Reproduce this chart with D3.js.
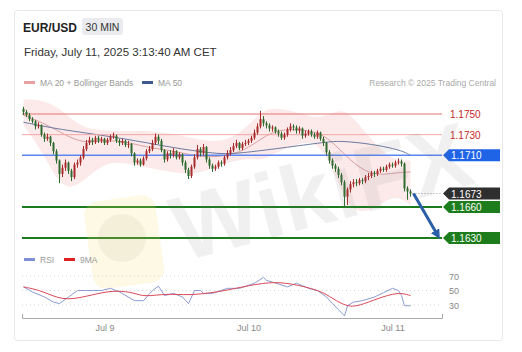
<!DOCTYPE html>
<html>
<head>
<meta charset="utf-8">
<script src="https://cdn.jsdelivr.net/npm/d3@7"></script>
<style>
  body { margin: 0; background: #fff; }
  text { font-family: "Liberation Sans", Arial, sans-serif; }
</style>
</head>
<body>
<svg id="chart" width="522" height="352"></svg>
<script>
// EUR/USD 30 min candles, Jul 8 10:30 -> Jul 11 03:00
const firstOpen = 1.1755;
const closes = [
  1.1752, 1.1749, 1.1745, 1.1743, 1.1738, 1.1739, 1.1730, 1.1726, 1.1728, 1.1722,
  1.1714, 1.1705, 1.1692, 1.1698, 1.1703, 1.1695, 1.1689, 1.1701, 1.1703, 1.1708,
  1.1716, 1.1722, 1.1725, 1.1723, 1.1727, 1.1724, 1.1726, 1.1722, 1.1725, 1.1728,
  1.1729, 1.1724, 1.1722, 1.1724, 1.1720, 1.1721, 1.1712, 1.1703, 1.1705, 1.1701,
  1.1707, 1.1714, 1.1716, 1.1722, 1.1728, 1.1724, 1.1715, 1.1706, 1.1712, 1.1710,
  1.1714, 1.1708, 1.1711, 1.1703, 1.1696, 1.1690, 1.1699, 1.1708, 1.1716, 1.1712,
  1.1718, 1.1706, 1.1700, 1.1697, 1.1699, 1.1703, 1.1702, 1.1708, 1.1712, 1.1715,
  1.1719, 1.1722, 1.1717, 1.1721, 1.1722, 1.1724, 1.1727, 1.1732, 1.1738, 1.1745,
  1.1741, 1.1739, 1.1736, 1.1737, 1.1733, 1.1731, 1.1727, 1.1730, 1.1735, 1.1738,
  1.1737, 1.1734, 1.1736, 1.1729, 1.1731, 1.1733, 1.1730, 1.1728, 1.1732, 1.1726,
  1.1722, 1.1713, 1.1705, 1.1700, 1.1697, 1.1691, 1.1684, 1.1670, 1.1677, 1.1682,
  1.1684, 1.1683, 1.1686, 1.1685, 1.1689, 1.1690, 1.1693, 1.1692, 1.1695, 1.1697,
  1.1696, 1.1699, 1.1701, 1.1700, 1.1703, 1.1704, 1.1702, 1.1678, 1.1675, 1.1673
];
const highs = [
  1.1757, 1.1754, 1.1751, 1.1747, 1.1744, 1.1742, 1.1740, 1.1732, 1.1731, 1.1729,
  1.1723, 1.1716, 1.1706, 1.1701, 1.1706, 1.1704, 1.1697, 1.1703, 1.1706, 1.1710,
  1.1719, 1.1725, 1.1728, 1.1727, 1.1729, 1.1729, 1.1728, 1.1727, 1.1727, 1.1730,
  1.1732, 1.1730, 1.1726, 1.1726, 1.1725, 1.1724, 1.1722, 1.1713, 1.1707, 1.1707,
  1.1709, 1.1716, 1.1719, 1.1725, 1.1731, 1.1730, 1.1726, 1.1716, 1.1714, 1.1715,
  1.1717, 1.1715, 1.1713, 1.1712, 1.1705, 1.1698, 1.1701, 1.1711, 1.1720, 1.1718,
  1.1721, 1.1719, 1.1708, 1.1702, 1.1701, 1.1705, 1.1705, 1.1710, 1.1715, 1.1718,
  1.1722, 1.1725, 1.1723, 1.1723, 1.1725, 1.1726, 1.1729, 1.1735, 1.1741, 1.1753,
  1.1748, 1.1743, 1.1741, 1.1739, 1.1738, 1.1735, 1.1733, 1.1732, 1.1737, 1.1741,
  1.1740, 1.1739, 1.1738, 1.1737, 1.1734, 1.1735, 1.1735, 1.1732, 1.1734, 1.1733,
  1.1728, 1.1723, 1.1715, 1.1707, 1.1702, 1.1699, 1.1693, 1.1686, 1.1679, 1.1685,
  1.1687, 1.1687, 1.1688, 1.1688, 1.1691, 1.1693, 1.1695, 1.1695, 1.1697, 1.1699,
  1.1699, 1.1701, 1.1703, 1.1703, 1.1705, 1.1707, 1.1706, 1.1703, 1.1680, 1.1677
];
const lows = [
  1.1749, 1.1747, 1.1743, 1.1741, 1.1735, 1.1736, 1.1728, 1.1723, 1.1724, 1.1719,
  1.1711, 1.1702, 1.1683, 1.1689, 1.1695, 1.1692, 1.1685, 1.1687, 1.1698, 1.1700,
  1.1706, 1.1714, 1.1720, 1.1720, 1.1721, 1.1722, 1.1722, 1.1720, 1.1720, 1.1723,
  1.1726, 1.1722, 1.1719, 1.1720, 1.1718, 1.1717, 1.1709, 1.1700, 1.1701, 1.1699,
  1.1700, 1.1705, 1.1712, 1.1714, 1.1720, 1.1721, 1.1713, 1.1703, 1.1704, 1.1707,
  1.1708, 1.1706, 1.1706, 1.1700, 1.1693, 1.1687, 1.1688, 1.1697, 1.1706, 1.1709,
  1.1710, 1.1703, 1.1697, 1.1694, 1.1695, 1.1697, 1.1699, 1.1700, 1.1706, 1.1710,
  1.1713, 1.1717, 1.1715, 1.1715, 1.1719, 1.1720, 1.1722, 1.1725, 1.1730, 1.1736,
  1.1738, 1.1736, 1.1733, 1.1733, 1.1731, 1.1728, 1.1725, 1.1725, 1.1728, 1.1733,
  1.1734, 1.1731, 1.1731, 1.1726, 1.1727, 1.1729, 1.1728, 1.1726, 1.1726, 1.1724,
  1.1719, 1.1710, 1.1702, 1.1697, 1.1694, 1.1688, 1.1681, 1.1661, 1.1662, 1.1674,
  1.1679, 1.1680, 1.1681, 1.1682, 1.1683, 1.1686, 1.1688, 1.1689, 1.1690, 1.1693,
  1.1694, 1.1694, 1.1697, 1.1698, 1.1698, 1.1701, 1.1699, 1.1675, 1.1667, 1.1670
];

// MA 20 + Bollinger bands, MA 50 : [candle index, price]
const bbUpper = [[0,1.1764],[6,1.1764],[12,1.1756],[17,1.1742],[22,1.1735],[29,1.1734],[36,1.1733],[42,1.1734],[49,1.1731],[56,1.1727],[62,1.1723],[69,1.1725],[75,1.1739],[80,1.1754],[84,1.1756],[91,1.1752],[97,1.1746],[102,1.1749],[107,1.1756],[112,1.1739],[119,1.1715],[124,1.1705],[129,1.1705]];
const bbLower = [[0,1.1739],[6,1.1715],[12,1.1681],[17,1.1678],[22,1.1691],[29,1.1705],[36,1.1701],[42,1.1698],[49,1.1694],[56,1.1691],[62,1.1696],[69,1.1704],[75,1.1707],[80,1.1705],[84,1.1713],[91,1.1720],[97,1.1725],[102,1.1705],[107,1.1667],[112,1.1652],[119,1.1662],[124,1.1672],[129,1.1662]];
const ma20 = [[0,1.1749],[6,1.1742],[12,1.1733],[17,1.1725],[22,1.1722],[29,1.1725],[36,1.1722],[42,1.1717],[49,1.1715],[56,1.1710],[62,1.1708],[69,1.1710],[75,1.1717],[81,1.1730],[86,1.1735],[92,1.1735],[99,1.1732],[104,1.1720],[109,1.1705],[114,1.1694],[119,1.1691],[124,1.1693],[129,1.1694]];
const ma50 = [[0,1.1742],[12,1.1735],[30,1.1728],[45,1.1720],[55,1.1715],[66,1.1711],[72,1.1712],[86,1.1717],[101,1.1723],[106,1.1724],[116,1.1721],[126,1.1715],[129,1.1710]];

// RSI and its 9 period MA : [candle index, value]
const rsi = [[0,55],[3,48],[7,41],[10,34],[12,32],[15,41],[18,50],[21,50],[26,50],[29,53],[32,48],[37,36],[40,36],[43,50],[45,56],[47,43],[50,46],[53,41],[55,32],[57,50],[59,50],[60,46],[63,46],[68,53],[72,53],[77,60],[80,68],[81,64],[85,59],[88,55],[91,60],[95,53],[98,50],[101,41],[103,32],[107,15],[108,29],[110,34],[113,36],[117,41],[120,47],[123,53],[125,50],[126,43],[127,29],[129,29]];
const rsiMa = [[0,55],[6,50],[13,36],[20,41],[26,47],[31,50],[37,47],[40,41],[48,46],[55,43],[65,48],[73,55],[82,62],[89,60],[99,50],[103,39],[108,27],[112,29],[118,39],[125,48],[129,43]];
const rsiTicks = [70, 50, 30];

// Key levels
const resistances = [1.1750, 1.1730];
const pivot = 1.1710;
const lastPrice = 1.1673;
const supports = [1.1660, 1.1630];
const target = { from: [130, 1.1673], to: [138, 1.1633] };

const dayTicks = [27, 75, 123];
const dayLabels = ["Jul 9", "Jul 10", "Jul 11"];

const svg = d3.select("#chart");

// Card
svg.append("rect")
  .attr("x", 14.5).attr("y", 10.5)
  .attr("width", 488).attr("height", 330)
  .attr("rx", 3)
  .style("fill", "#fff")
  .style("stroke", "#e8e8e8");

// Header
svg.append("text").attr("x", 23).attr("y", 32)
  .text("EUR/USD")
  .style("font-size", "12px").style("font-weight", "bold").style("fill", "#222");
svg.append("rect").attr("x", 82).attr("y", 18).attr("width", 41).attr("height", 17)
  .attr("rx", 3).style("fill", "#e9ebee");
svg.append("text").attr("x", 102.5).attr("y", 30.5).attr("text-anchor", "middle")
  .text("30 MIN").style("font-size", "10.5px").style("fill", "#333");
svg.append("text").attr("x", 24).attr("y", 56)
  .text("Friday, July 11, 2025 3:13:40 AM CET")
  .style("font-size", "11.5px").style("fill", "#333");

// Legend
const legendItems = [
  { label: "MA 20 + Bollinger Bands", color: "#e9a0a0", x: 24 },
  { label: "MA 50", color: "#3d5a8c", x: 142 }
];
legendItems.forEach((d) => {
  svg.append("rect").attr("x", d.x).attr("y", 81).attr("width", 11).attr("height", 3)
    .style("fill", d.color);
  svg.append("text").attr("x", d.x + 16).attr("y", 85.5).text(d.label)
    .style("font-size", "8.5px").style("fill", "#999");
});
svg.append("text").attr("x", 496).attr("y", 85.5).attr("text-anchor", "end")
  .text("Research © 2025 Trading Central")
  .style("font-size", "8.5px").style("fill", "#aaa");

// Scales
const xScale = d3.scaleLinear().domain([-0.5, 139.5]).range([22, 442]);
const yScale = d3.scaleLinear().domain([1.1630, 1.1750]).range([238, 114]);
const rsiScale = d3.scaleLinear().domain([30, 70]).range([305, 276]);

// Bollinger band
const band = d3.area()
  .x((d) => xScale(d[0]))
  .y0((d, i) => yScale(bbLower[i][1]))
  .y1((d) => yScale(d[1]))
  .curve(d3.curveBasis);
svg.append("path").datum(bbUpper).attr("d", band)
  .style("fill", "#f5c4c4").style("fill-opacity", 0.35);

const priceLine = d3.line()
  .x((d) => xScale(d[0]))
  .y((d) => yScale(d[1]))
  .curve(d3.curveBasis);
svg.append("path").datum(ma20).attr("d", priceLine)
  .style("fill", "none").style("stroke", "#dba0a0").style("stroke-width", 1);
svg.append("path").datum(ma50).attr("d", priceLine)
  .style("fill", "none").style("stroke", "#6a7aa0").style("stroke-width", 1);

// Level lines
resistances.forEach((p, i) => {
  svg.append("line")
    .attr("x1", 22).attr("x2", 442)
    .attr("y1", yScale(p)).attr("y2", yScale(p))
    .style("stroke", i === 0 ? "#e57373" : "#f2a5a5").style("stroke-width", 1);
  svg.append("text").attr("x", 450).attr("y", yScale(p) + 4)
    .text(p.toFixed(4)).style("font-size", "10px").style("fill", "#c62828");
});
svg.append("line")
  .attr("x1", 22).attr("x2", 442)
  .attr("y1", yScale(pivot)).attr("y2", yScale(pivot))
  .style("stroke", "#5b85f0").style("stroke-width", 1.5);
supports.forEach((p) => {
  svg.append("line")
    .attr("x1", 22).attr("x2", 442)
    .attr("y1", yScale(p)).attr("y2", yScale(p))
    .style("stroke", "#1d7a1d").style("stroke-width", 2);
});

// Candles
const candles = closes.map((c, i) => ({
  i: i,
  o: i === 0 ? firstOpen : closes[i - 1],
  h: highs[i],
  l: lows[i],
  c: c
}));
const candleColor = (d) => (d.c < d.o ? "#2e6b2e" : "#a92a2a");
const cg = svg.append("g");
cg.selectAll(".wick").data(candles).enter().append("line")
  .attr("x1", (d) => xScale(d.i)).attr("x2", (d) => xScale(d.i))
  .attr("y1", (d) => yScale(d.h)).attr("y2", (d) => yScale(d.l))
  .style("stroke", candleColor).style("stroke-width", 1);
cg.selectAll(".body").data(candles).enter().append("rect")
  .attr("x", (d) => xScale(d.i) - 1)
  .attr("width", 2)
  .attr("y", (d) => yScale(Math.max(d.o, d.c)))
  .attr("height", (d) => Math.max(1, Math.abs(yScale(d.o) - yScale(d.c))))
  .style("fill", candleColor);

// Last price dotted line
svg.append("line")
  .attr("x1", xScale(closes.length - 1) + 2).attr("x2", 442)
  .attr("y1", yScale(lastPrice)).attr("y2", yScale(lastPrice))
  .style("stroke", "#999").style("stroke-dasharray", "1,2");

// Target arrow
svg.append("defs").append("marker")
  .attr("id", "arrow").attr("viewBox", "0 0 10 10")
  .attr("refX", 5).attr("refY", 5)
  .attr("markerWidth", 3.2).attr("markerHeight", 3.2)
  .attr("orient", "auto")
  .append("path").attr("d", "M0,0 L10,5 L0,10 z").style("fill", "#2b5fa8");
svg.append("line")
  .attr("x1", xScale(target.from[0])).attr("y1", yScale(target.from[1]))
  .attr("x2", xScale(target.to[0])).attr("y2", yScale(target.to[1]))
  .style("stroke", "#2b5fa8").style("stroke-width", 3)
  .attr("marker-end", "url(#arrow)");

// Price tags
const tag = (p, color) => {
  const y = yScale(p);
  svg.append("path")
    .attr("d", `M443,${y} L449,${y - 6} L500,${y - 6} L500,${y + 6} L449,${y + 6} Z`)
    .style("fill", color);
  svg.append("text").attr("x", 451).attr("y", y + 4)
    .text(p.toFixed(4)).style("font-size", "10px").style("fill", "#fff");
};
tag(pivot, "#1f63e6");
tag(lastPrice, "#2f2f2f");
supports.forEach((p) => tag(p, "#1d7d1d"));

// Watermark
const wm = svg.append("g").style("pointer-events", "none");
wm.append("rect").attr("x", 88).attr("y", 198).attr("width", 72).attr("height", 88)
  .attr("rx", 14).style("fill", "#f3dc6a").style("opacity", 0.18)
  .attr("transform", "rotate(-8,124,241)");
wm.append("circle").attr("cx", 122).attr("cy", 238).attr("r", 24)
  .style("fill", "#8a7a55").style("opacity", 0.08);
wm.append("text").attr("x", 182).attr("y", 262)
  .attr("transform", "rotate(-15,182,262)")
  .text("WikiFX")
  .style("font-size", "92px").style("font-weight", "bold")
  .style("fill", "#7a7a7a").style("opacity", 0.1);

// RSI legend
const rsiLegend = [
  { label: "RSI", color: "#7f8fd6", x: 24 },
  { label: "9MA", color: "#e02020", x: 64 }
];
rsiLegend.forEach((d) => {
  svg.append("rect").attr("x", d.x).attr("y", 258).attr("width", 11).attr("height", 3)
    .style("fill", d.color);
  svg.append("text").attr("x", d.x + 16).attr("y", 262.5).text(d.label)
    .style("font-size", "8.5px").style("fill", "#999");
});

// RSI grid
rsiTicks.forEach((t) => {
  svg.append("line")
    .attr("x1", 22).attr("x2", 440)
    .attr("y1", rsiScale(t)).attr("y2", rsiScale(t))
    .style("stroke", "#d6d6d6").style("stroke-dasharray", "1,3");
  svg.append("text").attr("x", 449).attr("y", rsiScale(t) + 3.5)
    .text(t).style("font-size", "9px").style("fill", "#888");
});

const rsiLine = d3.line()
  .x((d) => xScale(d[0]))
  .y((d) => rsiScale(d[1]));
svg.append("path").datum(rsi).attr("d", rsiLine)
  .style("fill", "none").style("stroke", "#8d9bd4").style("stroke-width", 1);
svg.append("path").datum(rsiMa).attr("d", rsiLine.curve(d3.curveBasis))
  .style("fill", "none").style("stroke", "#d94a5a").style("stroke-width", 1);

// X axis
const xAxis = d3.axisBottom(xScale)
  .tickValues(dayTicks)
  .tickFormat((d, i) => dayLabels[i])
  .tickSize(0)
  .tickSizeOuter(-4)
  .tickPadding(7);
const xg = svg.append("g").attr("transform", "translate(0,318)").call(xAxis);
xg.select(".domain").style("stroke", "#aaa");
xg.selectAll("text").style("font-size", "9px").style("fill", "#888")
  .style("font-family", "Liberation Sans, Arial, sans-serif");
</script>
</body>
</html>
